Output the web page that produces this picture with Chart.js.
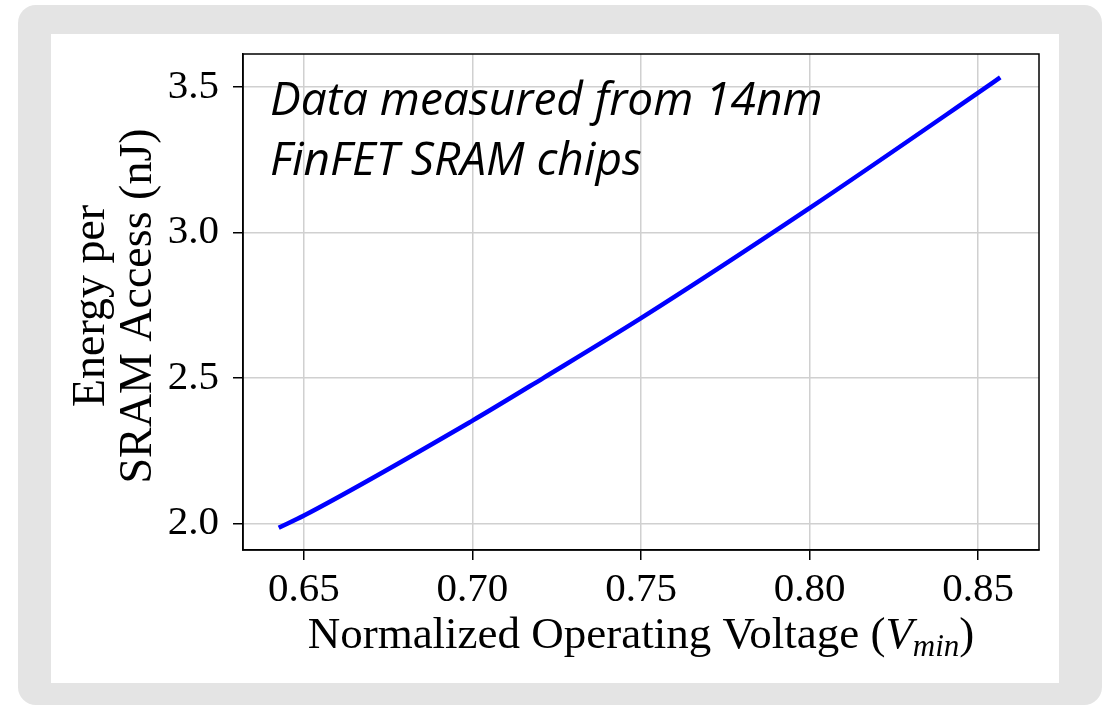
<!DOCTYPE html>
<html>
<head>
<meta charset="utf-8">
<script src="https://cdn.jsdelivr.net/npm/chart.js@4.4.1/dist/chart.umd.min.js"></script>
<style>
    html, body { margin: 0; padding: 0; background: #fff; width: 1109px; height: 706px; overflow: hidden; }
    #frame { position: absolute; left: 18px; top: 5px; width: 1084px; height: 700px; background: #e4e4e4; border-radius: 18px; }
    #inner { position: absolute; left: 33px; top: 29px; width: 1008px; height: 649px; background: #fff; }
    canvas { display: block; }
</style>
</head>
<body>
<div id="frame"><div id="inner"><canvas id="chart" width="1008" height="649"></canvas></div></div>
<script>
// Measured points (normalized Vmin -> energy per access, nJ)
const voltage = [0.6425, 0.65, 0.70, 0.7211, 0.75, 0.80, 0.85, 0.8566];
const energy = [1.985, 2.027, 2.353, 2.5, 2.705, 3.083, 3.479, 3.532];

const xTicks = [0.65, 0.70, 0.75, 0.80, 0.85];
const yTicks = [2.0, 2.5, 3.0, 3.5];
const xLimits = [0.6319, 0.8681];
const yLimits = [1.9085, 3.6125];

const noteLines = ["Data measured from 14nm", "FinFET SRAM chips"];
const yLabelLines = ["Energy per", "SRAM Access (nJ)"];

const serif = '"Liberation Serif", "Times New Roman", serif';

const extras = {
    id: "extras",
    afterDraw(chart) {
        const ctx = chart.ctx;
        const a = chart.chartArea;
        ctx.save();

        // spines on all four sides
        ctx.strokeStyle = "#000";
        ctx.lineWidth = 1.5;
        ctx.strokeRect(a.left, a.top, a.right - a.left, a.bottom - a.top);

        // note in the top-left corner
        ctx.fillStyle = "#000";
        ctx.font = 'italic 46px "Open Sans", sans-serif';
        ctx.textAlign = "left";
        ctx.textBaseline = "alphabetic";
        ctx.fillText(noteLines[0], a.left + 27, a.top + 61);
        ctx.fillText(noteLines[1], a.left + 27, a.top + 121);

        // x axis label with italic subscript
        const parts = [
            { t: "Normalized Operating Voltage (", f: "45px " + serif, dy: 0 },
            { t: "V", f: "italic 45px " + serif, dy: 0 },
            { t: "min", f: "italic 31px " + serif, dy: 8 },
            { t: ")", f: "45px " + serif, dy: 0 }
        ];
        let total = 0;
        parts.forEach(p => { ctx.font = p.f; p.w = ctx.measureText(p.t).width; total += p.w; });
        let x = (a.left + a.right) / 2 - total / 2;
        const base = a.bottom + 98;
        parts.forEach(p => {
            ctx.font = p.f;
            ctx.fillText(p.t, x, base + p.dy);
            x += p.w;
        });

        // y axis label, two lines
        ctx.font = "46px " + serif;
        ctx.textAlign = "center";
        const cy = (a.top + a.bottom) / 2 + 4;
        [a.left - 139, a.left - 92].forEach((bx, i) => {
            ctx.save();
            ctx.translate(bx, cy);
            ctx.rotate(-Math.PI / 2);
            ctx.fillText(yLabelLines[i], 0, 0);
            ctx.restore();
        });

        ctx.restore();
    }
};

const tickFont = { family: serif, size: 41 };

new Chart(document.getElementById("chart"), {
    type: "line",
    data: {
        datasets: [{
            data: voltage.map((v, i) => ({ x: v, y: energy[i] })),
            borderColor: "#0000ff",
            borderWidth: 4.5,
            pointRadius: 0,
            fill: false,
            cubicInterpolationMode: "monotone"
        }]
    },
    options: {
        responsive: false,
        animation: false,
        layout: { padding: { top: 20, right: 20, left: 0, bottom: 0 } },
        plugins: { legend: { display: false }, tooltip: { enabled: false } },
        scales: {
            x: {
                type: "linear",
                min: xLimits[0],
                max: xLimits[1],
                afterBuildTicks: s => { s.ticks = xTicks.map(v => ({ value: v })); },
                afterFit: s => { s.height = 133; s.paddingLeft = 0; s.paddingRight = 0; },
                ticks: { font: tickFont, color: "#000", padding: 6, maxRotation: 0, callback: v => v.toFixed(2) },
                grid: { color: "#d0d0d0", lineWidth: 1.5, tickLength: 10, tickColor: "#000", tickWidth: 1.5 },
                border: { color: "#000", width: 1.5 }
            },
            y: {
                type: "linear",
                min: yLimits[0],
                max: yLimits[1],
                afterBuildTicks: s => { s.ticks = yTicks.map(v => ({ value: v })); },
                afterFit: s => { s.width = 192; s.paddingTop = 0; s.paddingBottom = 0; },
                ticks: { font: tickFont, color: "#000", padding: 14, callback: v => v.toFixed(1) },
                grid: { color: "#d0d0d0", lineWidth: 1.5, tickLength: 10, tickColor: "#000", tickWidth: 1.5 },
                border: { color: "#000", width: 1.5 }
            }
        }
    },
    plugins: [extras]
});
</script>
</body>
</html>
